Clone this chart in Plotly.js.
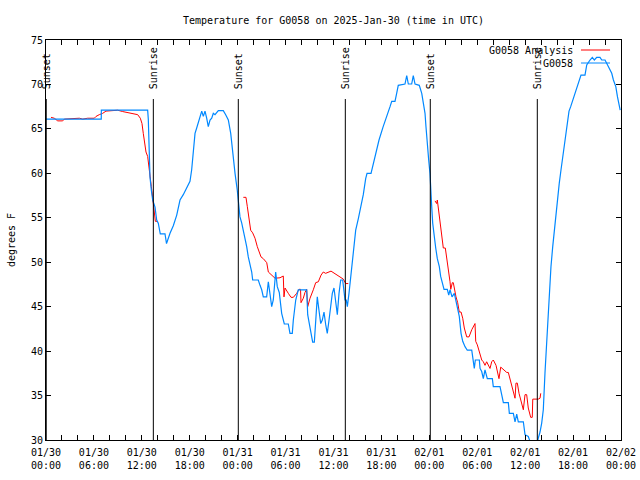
<!DOCTYPE html>
<html>
<head>
<meta charset="utf-8">
<script src="https://cdn.plot.ly/plotly-3.0.1.min.js"></script>
<style>
html,body{margin:0;padding:0;background:#fff;}
#chart{width:640px;height:480px;}
</style>
</head>
<body>
<div id="chart"></div>
<script>
// ---- DATA (hours since 2025-01-30 00:00 UTC, temperature in degrees F) ----
const obsName = "G0058";
const obsHours = [0,6.92,6.93,12.73,12.81,12.94,13.02,13.19,13.36,13.65,13.86,14.06,14.31,14.90,15.09,15.53,15.94,16.37,16.78,17.19,17.62,18.03,18.24,18.44,18.66,18.87,19.20,19.50,19.70,19.91,20.12,20.32,20.54,20.75,20.95,21.16,21.58,22.20,22.50,22.83,23.13,23.38,23.67,23.95,24.13,24.29,24.51,24.71,24.92,25.13,25.33,25.54,25.76,25.88,26.58,26.80,27.01,27.21,27.63,27.84,27.96,28.05,28.26,28.46,28.59,28.76,28.96,29.21,29.51,29.84,30.34,30.55,30.84,30.97,31.27,31.59,32.64,32.77,32.97,33.18,33.39,33.60,33.77,33.97,34.18,34.40,34.60,34.81,35.02,35.22,35.44,35.65,35.85,36.06,36.27,36.48,36.69,36.90,37.15,37.28,37.44,37.60,37.73,37.94,38.15,38.36,38.57,38.78,39.11,39.44,39.73,40.03,40.20,40.70,40.86,41.11,41.32,41.70,42.20,42.66,43.08,43.29,43.70,43.91,44.11,44.95,45.17,45.37,45.79,45.99,46.21,46.74,47.05,47.25,47.46,47.58,47.75,47.92,48.08,48.17,48.30,48.42,48.58,48.80,49.00,49.25,49.42,49.62,49.84,50.25,50.43,50.59,50.84,51.13,51.30,51.50,51.75,51.97,52.18,52.47,52.75,53.31,53.51,53.63,53.76,54.26,54.35,54.56,54.76,54.97,55.26,55.89,56.01,56.85,57.06,57.27,57.89,58.02,58.52,58.73,58.94,59.14,59.77,59.98,60.39,60.60,60.98,61.35,61.64,61.86,62.07,62.27,62.48,62.69,62.81,63.02,63.23,63.45,63.65,63.86,64.07,64.27,64.49,64.78,64.99,65.20,65.49,65.70,66.03,66.33,66.66,66.99,67.49,67.71,68.12,68.41,68.66,68.96,69.37,69.59,70.00,70.42,70.84,71.05,71.35,71.56,71.90];
const obsTemp = [66.1,66.1,67.1,67.1,66.1,61.9,59.6,58.1,57.0,56.2,54.75,54.4,53.2,53.2,52.1,53.25,54.1,55.3,57.0,57.6,58.3,59.1,60.4,62.25,64.5,65.1,66.2,67.0,66.4,67.0,66.2,65.25,66.0,66.2,66.75,66.6,67.05,67.05,66.6,66.0,64.5,62.25,60.0,58.1,56.25,55.1,54.4,53.6,52.9,51.75,50.6,49.9,48.9,48.0,48.0,47.4,46.9,46.1,46.1,47.8,46.9,46.1,45.0,45.75,46.9,48.9,47.25,46.6,44.25,43.05,43.05,42.0,42.0,43.5,45.75,46.9,46.9,44.1,43.1,42.0,41.0,41.0,43.5,46.1,44.6,43.1,43.5,44.4,43.0,42.0,43.5,45.0,46.5,47.1,45.4,44.1,46.5,48.0,48.0,46.7,45.75,45.75,45.0,46.5,48.4,50.25,51.9,53.6,54.9,56.25,57.6,59.4,60.0,60.0,60.6,61.5,62.4,63.75,65.2,66.3,67.5,68.1,68.1,69.0,69.9,70.05,71.0,70.05,70.05,71.0,70.05,69.9,69.0,67.9,66.75,65.25,63.0,61.5,60.0,57.75,56.25,54.4,52.9,51.6,50.4,49.5,48.4,47.6,46.95,46.95,46.3,46.9,46.1,46.5,45.75,44.8,43.9,42.0,41.1,40.5,40.1,40.1,38.8,38.05,39.0,39.0,38.05,37.7,36.9,37.9,36.9,36.9,36.0,36.0,35.1,34.2,34.2,33.0,33.0,32.05,32.9,32.05,32.05,30.6,30.4,29.85,28.5,29.0,30.2,30.9,31.9,33.4,37.5,41.25,43.1,46.5,49.5,51.75,53.6,55.5,57.4,58.9,60.4,62.25,63.75,65.1,67.0,67.5,68.4,69.2,69.9,71.05,71.05,72.2,72.75,73.05,72.75,73.05,73.05,72.75,72.75,72.0,71.25,70.5,69.75,68.6,67.1];

const anaName = "G0058 Analysis";
// null values mark the gaps between analysis segments
const anaHours = [0.63,1.04,1.47,2.09,2.29,3.34,4.17,4.60,5.22,6.05,6.26,6.67,7.10,7.51,8.35,8.98,9.60,10.43,11.06,11.48,11.81,12.02,12.18,12.36,12.52,12.73,12.86,13.06,13.19,13.44,13.56,13.69,13.90,
  19.0,
  24.71,25.04,25.21,25.42,25.63,25.88,26.17,26.46,26.71,26.92,27.21,27.64,27.84,28.26,28.68,29.30,29.71,29.80,29.93,30.34,30.68,30.97,31.39,31.68,31.87,31.93,32.22,32.43,32.64,32.77,33.06,33.47,33.77,34.10,34.44,34.72,35.02,35.69,36.10,36.53,36.94,37.23,37.53,37.85,
  43.0,
  48.71,48.92,49.00,49.12,49.34,49.55,49.75,50.00,50.18,50.38,50.59,50.68,50.88,51.00,51.13,51.34,51.55,51.75,51.97,52.18,52.38,52.68,52.97,53.31,53.72,53.81,54.01,54.35,54.56,54.76,54.97,55.18,55.60,55.81,56.01,56.35,56.56,56.72,56.94,57.27,57.69,57.89,58.10,58.31,58.52,58.73,58.85,59.02,59.23,59.44,59.64,59.77,59.98,60.19,60.39,60.52,60.69,60.89,60.95,61.64,61.86,61.95];
const anaTemp = [66.3,66.2,65.9,65.9,66.1,66.2,66.2,66.1,66.2,66.2,66.4,66.6,66.75,67.0,67.1,67.1,66.95,66.8,66.7,66.6,66.2,65.6,64.5,63.4,62.4,61.9,61.1,59.6,58.5,56.6,55.5,54.6,54.6,
  null,
  57.3,57.3,56.25,55.1,53.6,53.3,52.7,51.75,51.2,50.6,50.4,49.95,48.9,48.55,48.2,48.25,48.45,46.1,47.1,46.5,46.05,46.05,46.5,46.95,46.95,45.45,45.95,46.6,46.95,45.0,45.95,46.9,47.7,47.8,48.55,48.9,48.75,49.0,48.75,48.55,48.3,48.1,47.6,47.6,
  null,
  56.9,56.6,57.0,56.1,54.75,52.9,51.6,51.6,50.6,49.3,47.8,46.95,47.7,47.7,46.9,46.1,45.45,44.4,44.4,43.7,42.6,41.6,41.6,42.4,43.1,41.1,40.7,39.75,39.0,38.8,38.4,38.8,38.05,38.8,39.0,38.4,37.3,36.9,38.2,37.9,37.6,37.6,36.9,36.0,35.4,34.7,36.4,36.4,35.25,34.5,33.9,33.4,35.1,35.1,33.6,33.0,32.55,32.55,34.6,34.6,34.7,35.25];

// sunrise / sunset events (hours since 2025-01-30 00:00 UTC)
const sunHours = [0.03, 13.44, 24.08, 37.48, 48.12, 61.52];
const sunLabels = ["Sunset", "Sunrise", "Sunset", "Sunrise", "Sunset", "Sunrise"];

// x tick labels every 6 hours (ticks every 2 hours)
const xTickHours = [0,6,12,18,24,30,36,42,48,54,60,66,72];
const xTickLabels = ["01/30<br>00:00","01/30<br>06:00","01/30<br>12:00","01/30<br>18:00",
  "01/31<br>00:00","01/31<br>06:00","01/31<br>12:00","01/31<br>18:00",
  "02/01<br>00:00","02/01<br>06:00","02/01<br>12:00","02/01<br>18:00","02/02<br>00:00"];

const titleText = "Temperature for G0058 on 2025-Jan-30 (time in UTC)";
const yTitle = "degrees F";

// ---- helpers ----
const BASE = Date.UTC(2025, 0, 30, 0, 0, 0);
function toDate(h) {
  return new Date(BASE + h * 3600000).toISOString().replace('T', ' ').slice(0, 19);
}

const FONT = "DejaVu Sans Mono, Liberation Mono, monospace";
const BLUE = "rgb(0,136,255)";
const RED = "rgb(255,0,0)";

const traces = [
  {
    x: anaHours.map(toDate), y: anaTemp, name: anaName, type: "scatter", mode: "lines",
    line: {color: RED, width: 1}, connectgaps: false, showlegend: false, hoverinfo: "skip"
  },
  {
    x: obsHours.map(toDate), y: obsTemp, name: obsName, type: "scatter", mode: "lines",
    line: {color: BLUE, width: 1.2}, showlegend: false, hoverinfo: "skip"
  }
];

// tick positions every 2h, labels only every 6h
const tickvals = [], ticktext = [];
for (let h = 0; h <= 72; h += 2) {
  tickvals.push(toDate(h));
  const k = xTickHours.indexOf(h);
  ticktext.push(k >= 0 ? xTickLabels[k] : "");
}

const shapes = [];
const annotations = [];
sunHours.forEach((h, i) => {
  shapes.push({type: "line", xref: "x", yref: "paper", x0: toDate(h), x1: toDate(h), y0: 0, y1: 0.8525,
    line: {color: "black", width: 1}});
  annotations.push({xref: "x", yref: "paper", x: toDate(h), y: 0.8725, text: sunLabels[i],
    textangle: -90, showarrow: false, xanchor: "center", yanchor: "bottom", xshift: 1,
    font: {family: FONT, size: 10, color: "black"}});
});

// gnuplot-style key (text left of sample line)
const keyItems = [[anaName, RED, 0.975], [obsName, BLUE, 0.9425]];
keyItems.forEach(([name, color, yy]) => {
  annotations.push({xref: "paper", yref: "paper", x: 0.92, y: yy, text: name, showarrow: false,
    xanchor: "right", yanchor: "middle", font: {family: FONT, size: 10, color: "black"}});
  shapes.push({type: "line", xref: "paper", yref: "paper", x0: 0.9304, x1: 0.9809, y0: yy, y1: yy,
    line: {color: color, width: 1}});
});

const layout = {
  width: 640, height: 480,
  margin: {l: 46, r: 19, t: 40, b: 40},
  paper_bgcolor: "white", plot_bgcolor: "white",
  font: {family: FONT, size: 10, color: "black"},
  title: {text: titleText, x: 0.5, xref: "paper", xanchor: "center", y: 0.958, yanchor: "middle",
    font: {family: FONT, size: 10, color: "black"}},
  xaxis: {
    type: "date", range: [toDate(0), toDate(72)], tickmode: "array", tickvals: tickvals, ticktext: ticktext,
    ticks: "inside", ticklen: 5, tickcolor: "black", showline: true, linecolor: "black", linewidth: 1,
    mirror: "allticks", showgrid: false, zeroline: false, tickfont: {family: FONT, size: 10},
    ticklabelstandoff: 3
  },
  yaxis: {
    range: [30, 75], dtick: 5, tick0: 30, ticks: "inside", ticklen: 5, tickcolor: "black",
    showline: true, linecolor: "black", linewidth: 1, mirror: "allticks", showgrid: false, zeroline: false,
    tickfont: {family: FONT, size: 10},
    title: {text: yTitle, font: {family: FONT, size: 10}, standoff: 13}
  },
  shapes: shapes,
  annotations: annotations,
  showlegend: false
};

Plotly.newPlot("chart", traces, layout, {staticPlot: true, displayModeBar: false});
</script>
</body>
</html>
